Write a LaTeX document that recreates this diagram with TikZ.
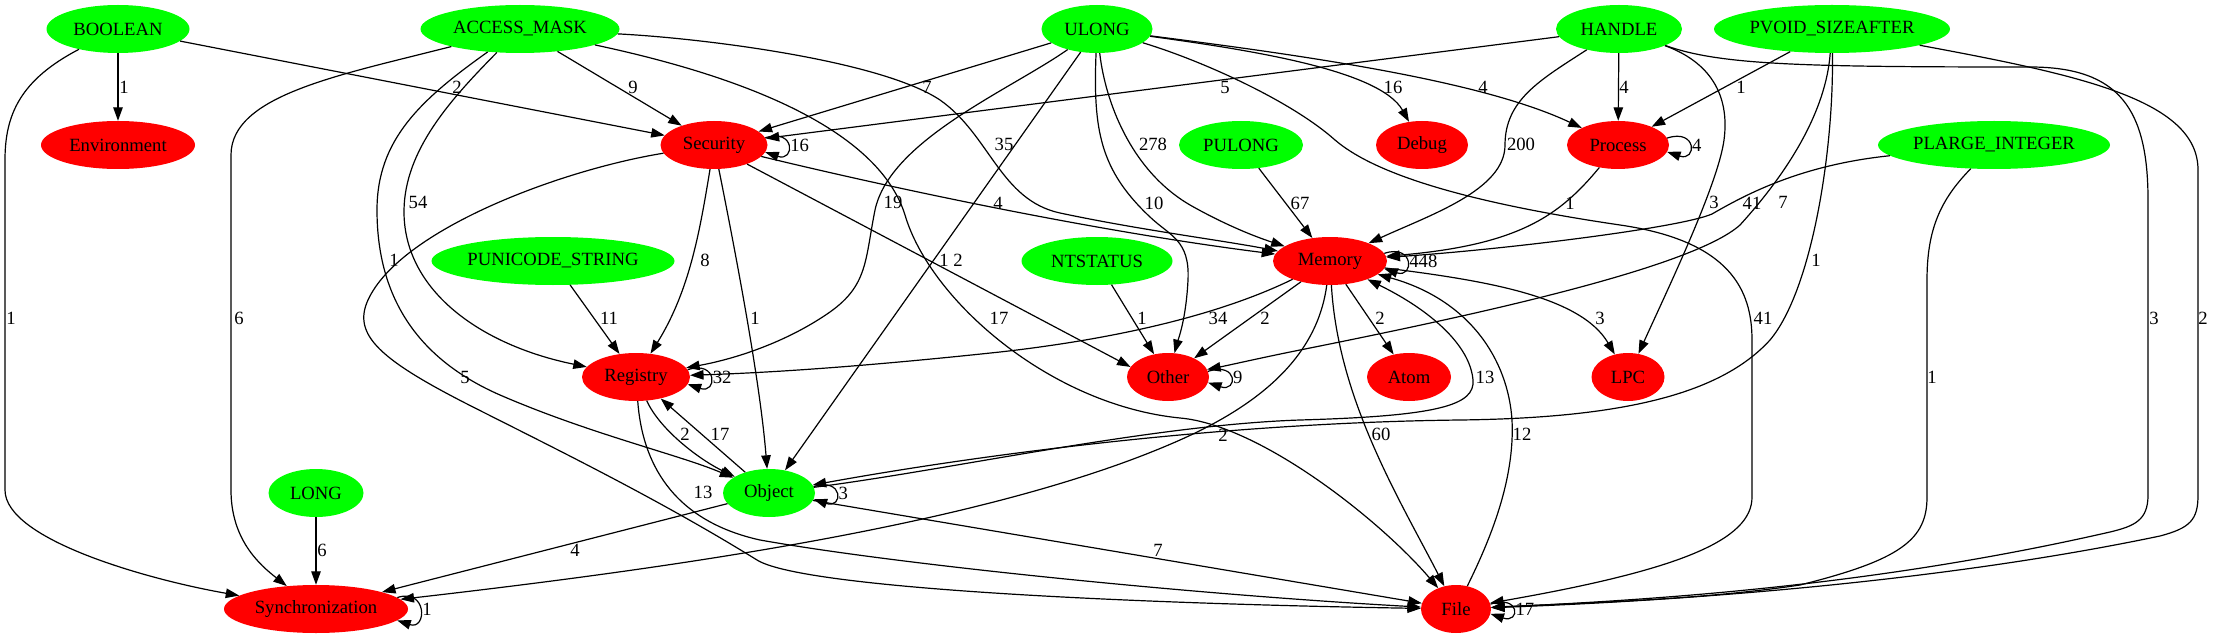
\documentclass[tikz,border=0pt]{standalone}
\usepackage{fontspec}
\setmainfont{Liberation Serif}
\usetikzlibrary{shapes.geometric,arrows.meta}
\definecolor{gvgreen}{RGB}{0,255,0}
\definecolor{gvred}{RGB}{255,0,0}

\begin{document}
\begin{tikzpicture}[x=1pt, y=1pt,
	every node/.style={font=\fontsize{18.67}{20}\selectfont},
	vnode/.style={ellipse, inner sep=0pt, inner xsep=-5pt, minimum height=48pt},
	greennode/.style={vnode, fill=gvgreen},
	rednode/.style={vnode, fill=gvred},
	conn/.style={line width=1.2pt, -{Triangle[length=13.5pt, width=9.5pt]}},
	lab/.style={inner sep=0pt}]
	\useasboundingbox (0,0) rectangle (2213,-639);
	% 节点
	\node[greennode, minimum width=143pt] (boolean) at (118,-29) {BOOLEAN};
	\node[greennode, minimum width=199pt] (accessmask) at (520,-29) {ACCESS\_MASK};
	\node[greennode, minimum width=111pt] (ulong) at (1097,-29) {ULONG};
	\node[greennode, minimum width=126pt] (handle) at (1619,-29) {HANDLE};
	\node[greennode, minimum width=236pt] (pvoid) at (1832,-29) {PVOID\_SIZEAFTER};
	\node[rednode, minimum width=154pt] (environment) at (118,-145) {Environment};
	\node[rednode, minimum width=107pt] (security) at (714,-145) {Security};
	\node[greennode, minimum width=124pt] (pulong) at (1241,-145) {PULONG};
	\node[rednode, minimum width=92pt] (debug) at (1422,-145) {Debug};
	\node[rednode, minimum width=102pt] (process) at (1618,-145) {Process};
	\node[greennode, minimum width=232pt] (plarge) at (1994,-145) {PLARGE\_INTEGER};
	\node[greennode, minimum width=243pt] (punicode) at (553,-261) {PUNICODE\_STRING};
	\node[greennode, minimum width=151pt] (ntstatus) at (1097,-261) {NTSTATUS};
	\node[rednode, minimum width=114pt] (memory) at (1330,-261) {Memory};
	\node[rednode, minimum width=108pt] (registry) at (636,-377) {Registry};
	\node[rednode, minimum width=82pt] (other) at (1168,-377) {Other};
	\node[rednode, minimum width=84pt] (atom) at (1409,-377) {Atom};
	\node[rednode, minimum width=73pt] (lpc) at (1628,-377) {LPC};
	\node[greennode, minimum width=95pt] (long) at (316,-493) {LONG};
	\node[greennode, minimum width=92pt] (object) at (769,-493) {Object};
	\node[rednode, minimum width=184pt] (sync) at (316,-609) {Synchronization};
	\node[rednode, minimum width=70pt] (file) at (1456,-609) {File};
	% 边
	\draw[conn] (boolean) -- (environment) node[lab] at (124,-87) {1};
	\draw[conn] (boolean) -- (security) node[lab] at (457,-87) {2};
	\draw[conn] (boolean) .. controls (20,-80) and (5,-115) .. (5,-160) -- (5,-490) .. controls (5,-540) and (150,-580) .. (sync) node[lab] at (11,-318) {1};
	\draw[conn] (accessmask) -- (security) node[lab] at (633,-87) {9};
	\draw[conn] (accessmask) .. controls (340,-75) and (231,-95) .. (231,-155) -- (231,-490) .. controls (231,-540) and (260,-565) .. (sync) node[lab] at (239,-318) {6};
	\draw[conn] (accessmask) .. controls (450,-100) and (405,-150) .. (404,-210) .. controls (403,-290) and (480,-345) .. (registry) node[lab] at (418,-202) {54};
	\draw[conn] (accessmask) .. controls (420,-100) and (377,-140) .. (377,-210) .. controls (377,-300) and (420,-360) .. (500,-395) .. controls (590,-434) and (680,-455) .. (object) node[lab] at (394,-260) {1};
	\draw[conn] (accessmask) .. controls (700,-38) and (880,-60) .. (940,-100) .. controls (990,-135) and (1000,-200) .. (1060,-213) .. controls (1140,-230) and (1220,-240) .. (memory) node[lab] at (1004,-144) {35};
	\draw[conn] (accessmask) .. controls (760,-80) and (880,-135) .. (905,-215) .. controls (930,-300) and (1050,-405) .. (1180,-418) .. controls (1260,-425) and (1380,-520) .. (file) node[lab] at (999,-318) {17};
	\draw[conn] (ulong) -- (security) node[lab] at (927,-87) {7};
	\draw[conn] (ulong) .. controls (1010,-90) and (890,-140) .. (875,-210) .. controls (865,-260) and (868,-285) .. (830,-312) .. controls (790,-340) and (740,-358) .. (registry) node[lab] at (893,-202) {19};
	\draw[conn] (ulong) -- (object) node[lab] at (958,-260) {2};
	\draw[conn] (ulong) .. controls (1093,-130) and (1100,-170) .. (1150,-217) .. controls (1170,-236) and (1190,-240) .. (1188,-280) .. controls (1186,-320) and (1178,-340) .. (other) node[lab] at (1154,-203) {10};
	\draw[conn] (ulong) .. controls (1105,-100) and (1130,-170) .. (1190,-205) .. controls (1220,-222) and (1250,-235) .. (memory) node[lab] at (1153,-144) {278};
	\draw[conn] (ulong) .. controls (1250,-50) and (1380,-70) .. (debug) node[lab] at (1393,-87) {16};
	\draw[conn] (ulong) .. controls (1300,-55) and (1480,-80) .. (process) node[lab] at (1483,-87) {4};
	\draw[conn] (ulong) .. controls (1200,-60) and (1290,-100) .. (1335,-140) .. controls (1370,-170) and (1450,-200) .. (1620,-225) .. controls (1730,-241) and (1752,-290) .. (1752,-340) -- (1752,-497) .. controls (1752,-540) and (1680,-570) .. (file) node[lab] at (1763,-318) {41};
	\draw[conn] (handle) -- (security) node[lab] at (1225,-87) {5};
	\draw[conn] (handle) -- (process) node[lab] at (1624,-87) {4};
	\draw[conn] (handle) .. controls (1540,-80) and (1505,-100) .. (1505,-145) .. controls (1505,-190) and (1430,-215) .. (memory) node[lab] at (1521,-144) {200};
	\draw[conn] (handle) .. controls (1710,-62) and (1730,-95) .. (1724,-140) .. controls (1718,-185) and (1665,-295) .. (lpc) node[lab] at (1714,-202) {3};
	\draw[conn] (handle) .. controls (1720,-65) and (1800,-67) .. (2030,-67) .. controls (2120,-67) and (2148,-110) .. (2148,-200) -- (2148,-495) .. controls (2148,-520) and (2135,-526) .. (2110,-532) .. controls (1900,-580) and (1700,-598) .. (file) node[lab] at (2154,-318) {3};
	\draw[conn] (pvoid) -- (process) node[lab] at (1741,-87) {1};
	\draw[conn] (pvoid) .. controls (1826,-110) and (1790,-170) .. (1740,-225) .. controls (1690,-270) and (1450,-320) .. (1300,-350) .. controls (1260,-358) and (1230,-365) .. (other) node[lab] at (1783,-202) {7};
	\draw[conn] (pvoid) .. controls (1834,-150) and (1812,-290) .. (1770,-340) .. controls (1720,-395) and (1620,-418) .. (1460,-420) .. controls (1200,-423) and (950,-460) .. (object) node[lab] at (1816,-260) {1};
	\draw[conn] (pvoid) .. controls (2080,-75) and (2198,-100) .. (2198,-170) -- (2198,-495) .. controls (2198,-520) and (2190,-528) .. (2160,-536) .. controls (1950,-580) and (1700,-600) .. (file) node[lab] at (2203,-318) {2};
	\draw[conn] (plarge) .. controls (1800,-165) and (1745,-195) .. (1712,-214) .. controls (1680,-228) and (1500,-250) .. (memory) node[lab] at (1752,-203) {41};
	\draw[conn] (plarge) .. controls (1940,-200) and (1927,-230) .. (1927,-280) -- (1927,-497) .. controls (1927,-540) and (1900,-560) .. (1800,-585) .. controls (1700,-600) and (1580,-603) .. (file) node[lab] at (1932,-377) {1};
	\draw[conn] (process) .. controls (1560,-215) and (1520,-245) .. (memory) node[lab] at (1570,-203) {1};
	\draw[conn] (pulong) -- (memory) node[lab] at (1300,-203) {67};
	\draw[conn] (ntstatus) -- (other) node[lab] at (1142,-318) {1};
	\draw[conn] (punicode) -- (registry) node[lab] at (609,-318) {11};
	\draw[conn] (security) .. controls (700,-230) and (690,-290) .. (registry) node[lab] at (705,-260) {8};
	\draw[conn] (security) .. controls (735,-250) and (760,-380) .. (object) node[lab] at (755,-318) {1};
	\draw[conn] (security.-30) -- (other.165) node[lab] at (944,-260) {1};
	\draw[conn] (security) .. controls (900,-190) and (1100,-232) .. (memory) node[lab] at (998,-203) {4};
	\draw[conn] (security) .. controls (560,-170) and (400,-230) .. (368,-300) .. controls (352,-335) and (380,-360) .. (473,-407) .. controls (560,-451) and (660,-500) .. (757,-560) .. controls (800,-587) and (1100,-603) .. (file) node[lab] at (465,-377) {5};
	\draw[conn] (memory) .. controls (1240,-305) and (1150,-335) .. (1000,-352) .. controls (850,-368) and (760,-373) .. (registry) node[lab] at (1218,-318) {34};
	\draw[conn] (memory) -- (other) node[lab] at (1265,-318) {2};
	\draw[conn] (memory) -- (atom) node[lab] at (1380,-318) {2};
	\draw[conn] (memory) .. controls (1338,-400) and (1400,-500) .. (file) node[lab] at (1381,-434) {60};
	\draw[conn] (memory) .. controls (1318,-350) and (1270,-400) .. (1180,-440) .. controls (1000,-520) and (700,-565) .. (sync) node[lab] at (1223,-435) {2};
	\draw[conn] (memory) .. controls (1480,-280) and (1580,-295) .. (lpc) node[lab] at (1600,-318) {3};
	\draw[conn] (registry) .. controls (660,-430) and (700,-460) .. (object) node[lab] at (685,-434) {2};
	\draw[conn] (registry) .. controls (642,-460) and (670,-520) .. (760,-540) .. controls (900,-565) and (1200,-595) .. (file) node[lab] at (703,-492) {13};
	\draw[conn] (object) -- (registry) node[lab] at (720,-434) {17};
	\draw[conn] (object) .. controls (950,-470) and (1150,-425) .. (1300,-420) .. controls (1440,-416) and (1475,-405) .. (1473,-380) .. controls (1470,-345) and (1430,-310) .. (memory) node[lab] at (1485,-377) {13};
	\draw[conn] (object) -- (sync) node[lab] at (575,-550) {4};
	\draw[conn] (object) -- (file) node[lab] at (1158,-550) {7};
	\draw[conn] (file) .. controls (1490,-540) and (1515,-480) .. (1512,-420) .. controls (1508,-360) and (1470,-300) .. (memory) node[lab] at (1522,-434) {12};
	\draw[conn] (long) -- (sync) node[lab] at (322,-550) {6};
	% 自环
	\foreach \n/\t in {security/16, process/4, memory/448, registry/32, other/9, object/3, sync/1, file/17}
	\draw[conn] (\n.8) .. controls +(30,10) and +(30,-10) .. (\n.-8) node[lab, pos=0.5, right=2pt] {\t};
\end{tikzpicture}
\end{document}
